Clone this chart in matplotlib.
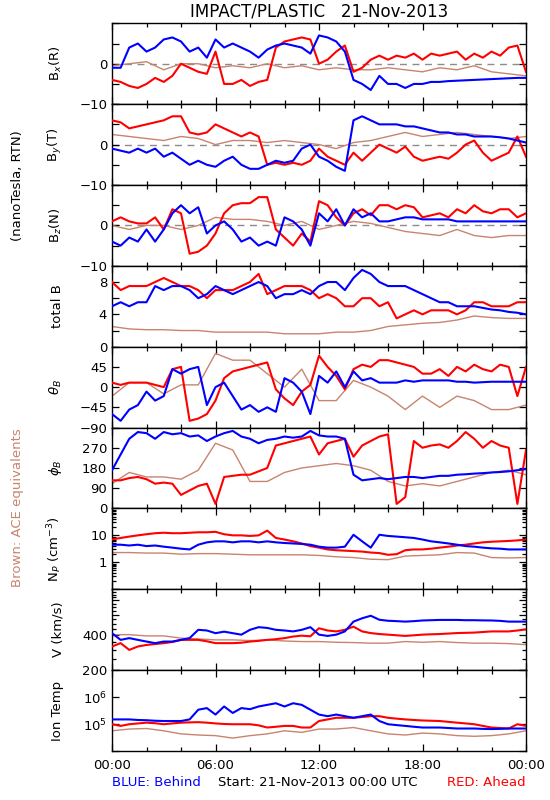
import numpy as np
import matplotlib.pyplot as plt
from matplotlib.ticker import FixedLocator, FixedFormatter, NullLocator, NullFormatter

# time grids (hours since 21-Nov-2013 00:00 UTC)
hours_half = np.arange(0, 24.01, 0.5)
hours_full = np.arange(0, 24.01, 1.0)

# ---- magnetic field, RTN (nT) ----
bx_blue = [-1, -1, 4, 5, 3, 4, 6, 6.5, 5.5, 3, 4, 1.5, 6, 4, 5, 4, 3, 1.5, 3.5, 4.5,
           5, 4.5, 4, 2.5, 7, 6.5, 5.5, 3, -4, -5, -6.5, -3, -5, -5, -6, -5, -5, -4.5,
           -4.5, -4.3, -4.2, -4.1, -4, -3.9, -3.8, -3.7, -3.6, -3.5, -3.5]
bx_red = [-4, -4.5, -5.5, -6, -5, -3.5, -4.5, -3, 0, -1, -2, -2.5, 3, -5, -5, -4, -5.5,
          -4.5, -4, 4, 5.5, 6, 6.5, 6, 0, 1, 3, 4.5, -2, -1, 1, 2, 1, 2, 1.5, 2.5, 1,
          2.5, 2, 2.5, 3, 1, 2.5, 1.5, 3, 2, 4, 4.5, -2]
bx_ace = [-0.5, 0, 0.5, -1.5, 0, 0, -1, -0.5, -1, 0, -1, -0.5, -1.5, -1, -1.5, -1.5,
          -1, -1.5, -2, -1, -1.5, -0.5, -2, -2.5, -3]

by_blue = [-1, -1.5, -2, -1, -2, -1, -3, -2, -3.5, -5, -4, -5, -5.5, -4, -3, -5, -6, -6,
           -5, -4, -4.5, -4, -1, 0, -3, -4, -5.5, -6.5, 6, 7, 6, 5, 5, 5, 4.5, 4.5, 4,
           3.5, 3, 3, 2.5, 2.5, 2, 2, 2, 1.8, 1.5, 1, 0.5]
by_red = [6, 5.5, 4, 4.5, 5, 5.5, 6, 7, 7, 3, 2.5, 3, 5, 4, 3, 2, 3, 2, -5, -4.5, -5,
          -4.5, -5, -4, -1, -3, -4, -5, -2, -4, -2, 0, -1, -2, -0.5, -3, -4, -3.5, -3,
          -3.5, -2, 0, 1, -2, -4, -3, -2, 2, -3]
by_ace = [2.5, 2, 1.5, 1, 2, 1.5, 0, 1, 1, 0.5, 1, 0.5, 0, -1, 0.5, 1, 2, 3, 2, 2.5,
          3, 2.5, 2, 1.5, 2]

bz_blue = [-4, -5, -3, -4, -1, -4, -1, 3, 5, 3, 4.5, -2, 0, 1, -1, -4, -3, -5, -4, -5,
           2, 1, -1, -5, 3, 1, 4, 0, 4, 2, 3, 1, 1, 1.5, 2, 2, 1.5, 1.5, 1.5, 1.5, 1, 1,
           1, 1, 1, 1, 1, 1, 1]
bz_red = [1, 2, 1, 0.5, 0.5, 2, -1, 4, 3, -7, -6.5, -5, -2, 3, 5, 5.5, 5.5, 7, 7, -1,
          -3, -5, -2, -4, 6, 5, 2, 0, 3, 4, 2.5, 5, 5, 4, 5, 4.5, 2, 2.5, 3, 2, 4, 3, 5,
          3.5, 3, 4, 4, 2, 3]
bz_ace = [0, -1, 0, 0, -1, 0, 2, 1.5, 1.5, 1, 0, 1, -1, 0, 1, 0.5, -0.5, -1.5, -2,
          -2.5, -1, -2.5, -3, -2.5, -2.5]

bt_blue = [5, 5.5, 5, 5.5, 5.5, 7.5, 7, 7.5, 7.5, 7, 6, 6.5, 7.5, 7, 6.5, 7, 7.5, 8,
           7.5, 6, 6.5, 6.5, 7, 6.5, 7.5, 8, 8, 7, 8.5, 9.5, 9, 8, 7.5, 7.5, 7.5, 7,
           6.5, 6, 5.5, 5.5, 5, 5, 5, 4.8, 4.6, 4.5, 4.3, 4.2, 4]
bt_red = [8, 7, 7.5, 7.5, 7.5, 8, 8.5, 8, 7.5, 7.5, 7, 6, 7, 7, 7, 7.5, 8, 9, 6.5, 7,
          7.5, 7.5, 7.5, 7, 6, 6.5, 6, 5, 5, 6, 6, 5, 5.5, 3.5, 4, 4.5, 4, 4.5, 4.5,
          4.5, 4, 4.5, 5.5, 5.5, 5, 5, 5, 5.5, 5.5]
bt_ace = [2.5, 2.2, 2.1, 2.1, 2.0, 2.0, 1.8, 1.8, 1.8, 1.8, 1.6, 1.6, 1.6, 1.8, 1.8,
          2.0, 2.5, 2.7, 2.9, 3.0, 3.3, 3.8, 3.6, 3.5, 3.5]

theta_blue = [-60, -75, -50, -40, -10, -30, -20, 40, 30, 40, 45, -40, 0, 10, -20, -50,
              -40, -55, -45, -55, 20, 10, -10, -60, 25, 10, 35, 0, 35, 15, 20, 10, 10,
              10, 15, 12, 15, 15, 15, 15, 12, 12, 10, 11, 12, 12, 12, 12, 12]
theta_red = [10, 5, 10, 10, 10, 5, 0, 40, 45, -75, -70, -60, -30, 20, 35, 40, 45, 50,
             55, -5, -25, -40, -10, 5, 70, 45, 25, -5, 40, 50, 45, 60, 60, 55, 50, 45,
             30, 30, 40, 25, 45, 35, 50, 40, 35, 50, 45, -20, 45]
theta_ace = [-20, 10, 10, -15, 5, 5, 75, 60, 60, 30, 0, 40, -30, -30, 15, 0, -20, -50,
             -20, -45, -20, -30, -50, -50, -40]

phi_blue = [170, 240, 310, 340, 335, 310, 340, 330, 335, 320, 325, 300, 320, 335, 345,
            320, 310, 290, 305, 310, 320, 315, 320, 345, 325, 320, 320, 310, 150, 125,
            130, 135, 130, 135, 140, 140, 135, 140, 145, 145, 150, 152, 155, 157, 160,
            162, 165, 170, 175]
phi_red = [125, 125, 135, 140, 130, 110, 115, 110, 60, 80, 100, 110, 20, 140, 145, 150,
           150, 165, 180, 280, 290, 300, 310, 320, 240, 290, 300, 310, 230, 280, 300,
           320, 330, 20, 50, 300, 270, 280, 285, 270, 300, 340, 310, 270, 300, 280, 270,
           20, 260]
phi_ace = [110, 160, 140, 140, 130, 170, 290, 260, 120, 120, 160, 180, 190, 200, 190,
           170, 120, 100, 110, 100, 120, 140, 160, 170, 150]

# ---- plasma ----
np_blue = [4.5, 4.5, 4.2, 4.5, 4.0, 4.2, 3.8, 3.5, 3.2, 3.0, 4.5, 5.5, 6, 6, 5.5, 6, 6,
           5.5, 6, 5.5, 5.2, 5, 4.8, 4.5, 3.8, 3.5, 3.5, 3.8, 10.5, 6, 3.5, 10.5, 9.5,
           9, 8.5, 8, 7, 6, 5.5, 5, 4.5, 4, 3.8, 3.5, 3.3, 3.2, 3.0, 3.0, 3.0]
np_red = [7, 8, 9, 10, 11, 12, 12.5, 12, 12, 12.5, 13, 13, 13.5, 11, 10, 10, 9.5, 10,
          15, 8, 7, 6, 5, 4, 3.5, 3, 2.8, 2.7, 2.6, 2.5, 2.3, 2.2, 1.9, 2.0, 2.8, 3, 3,
          3.2, 3.5, 3.8, 4.2, 4.5, 5, 5.5, 5.8, 6, 6.2, 6.5, 7]
np_ace = [2.3, 2.3, 2.2, 2.2, 2.0, 2.1, 2.1, 2.0, 1.9, 1.9, 1.9, 1.9, 1.8, 1.6, 1.5,
          1.3, 1.25, 1.7, 1.8, 1.9, 2.3, 2.2, 1.5, 1.45, 1.5]

v_blue = [417, 365, 378, 365, 353, 342, 353, 353, 365, 378, 446, 440, 417, 430, 417,
          405, 446, 470, 463, 446, 440, 432, 446, 470, 405, 395, 405, 432, 525, 561,
          590, 545, 534, 530, 525, 530, 537, 540, 543, 543, 543, 540, 540, 538, 537,
          533, 525, 525, 525]
v_red = [320, 342, 299, 320, 330, 336, 342, 350, 365, 365, 365, 355, 342, 342, 342, 345,
         353, 358, 365, 370, 378, 390, 397, 392, 460, 440, 432, 446, 475, 432, 418, 410,
         405, 400, 395, 400, 405, 408, 410, 414, 418, 420, 422, 427, 432, 432, 432, 440,
         450]
v_ace = [405, 405, 395, 395, 378, 372, 365, 365, 360, 365, 357, 353, 353, 348, 346,
         342, 342, 353, 348, 353, 346, 342, 342, 339, 332]

temp_blue = [1.48e5, 1.48e5, 1.48e5, 1.41e5, 1.38e5, 1.32e5, 1.29e5, 1.29e5, 1.29e5,
             1.48e5, 3.39e5, 3.89e5, 2.24e5, 4.47e5, 2.57e5, 3.89e5, 3.55e5, 4.47e5,
             5.13e5, 5.89e5, 4.47e5, 5.89e5, 5.13e5, 3.39e5, 2.24e5, 1.95e5, 2.24e5,
             1.95e5, 1.70e5, 1.95e5, 2.24e5, 1.29e5, 9.8e4, 9.1e4, 8.5e4, 7.9e4, 7.4e4,
             7.4e4, 7.4e4, 7.1e4, 6.8e4, 6.8e4, 6.8e4, 6.6e4, 6.5e4, 6.6e4, 6.8e4,
             6.8e4, 6.8e4]
temp_red = [9.8e4, 8.5e4, 9.8e4, 1.05e5, 1.12e5, 1.07e5, 9.8e4, 1.05e5, 1.12e5, 1.15e5,
            1.17e5, 1.12e5, 1.05e5, 1.0e5, 9.8e4, 9.8e4, 9.8e4, 8.9e4, 7.4e4, 7.9e4,
            8.5e4, 8.5e4, 7.4e4, 7.4e4, 1.29e5, 1.48e5, 1.70e5, 1.70e5, 1.70e5, 1.82e5,
            1.95e5, 1.95e5, 1.70e5, 1.58e5, 1.48e5, 1.41e5, 1.35e5, 1.32e5, 1.29e5,
            1.20e5, 1.12e5, 1.05e5, 9.8e4, 8.5e4, 7.4e4, 7.1e4, 6.8e4, 9.8e4, 8.5e4]
temp_ace = [5.6e4, 6.5e4, 6.8e4, 5.6e4, 4.3e4, 3.9e4, 3.7e4, 3.0e4, 3.7e4, 4.3e4,
            5.6e4, 4.9e4, 6.5e4, 6.5e4, 7.4e4, 5.6e4, 4.3e4, 3.9e4, 4.6e4, 4.3e4,
            3.7e4, 3.5e4, 3.7e4, 4.3e4, 5.6e4]

BLUE = '#0000FF'
RED = '#FF0000'
BROWN = '#C8846E'
FS = 9.5

panels = [
    # label, blue, red, ace, ylim, scale, ticks, ticklabels, minor
    ('B$_x$(R)', bx_blue, bx_red, bx_ace, (-10, 10), 'linear',
     [-10, -5, 0, 5, 10], ['\u221210', '', '0', '', ''], None),
    ('B$_y$(T)', by_blue, by_red, by_ace, (-10, 10), 'linear',
     [-10, -5, 0, 5, 10], ['\u221210', '', '0', '', ''], None),
    ('B$_z$(N)', bz_blue, bz_red, bz_ace, (-10, 10), 'linear',
     [-10, -5, 0, 5, 10], ['\u221210', '', '0', '', ''], None),
    ('total B', bt_blue, bt_red, bt_ace, (0, 10), 'linear',
     [0, 2, 4, 6, 8, 10], ['0', '', '4', '', '8', ''], None),
    (r'$\theta_B$', theta_blue, theta_red, theta_ace, (-90, 90), 'linear',
     [-90, -45, 0, 45, 90], ['\u221290', '\u221245', '0', '45', ''], None),
    (r'$\phi_B$', phi_blue, phi_red, phi_ace, (0, 360), 'linear',
     [0, 90, 180, 270, 360], ['0', '90', '180', '270', ''], None),
    ('N$_P$ (cm$^{-3}$)', np_blue, np_red, np_ace, (0.1, 100), 'log',
     [0.1, 1, 10, 100], ['', '1', '10', ''],
     [m * d for d in (0.1, 1, 10) for m in range(2, 10)]),
    ('V (km/s)', v_blue, v_red, v_ace, (200, 1000), 'log',
     [200, 400, 600, 800, 1000], ['200', '400', '', '', ''], list(range(250, 1000, 50))),
    ('Ion Temp', temp_blue, temp_red, temp_ace, (1e4, 1e7), 'log',
     [1e4, 1e5, 1e6, 1e7], ['', '10$^5$', '10$^6$', ''], []),
]

fig = plt.figure(figsize=(5.5, 8), dpi=100)
ax_left, ax_width = 112 / 550, 414 / 550
top_px, panel_px = 23.3, 80.85

for i, (label, blue, red, ace, ylim, scale, ticks, tlabels, minor) in enumerate(panels):
    y0 = 1 - (top_px + (i + 1) * panel_px) / 800
    ax = fig.add_axes([ax_left, y0, ax_width, panel_px / 800])
    if scale == 'log':
        ax.set_yscale('log')
    if i < 3:
        ax.axhline(0, color='#8c8c8c', lw=1.0, dashes=(5, 4), zorder=1)
    ax.plot(hours_full, ace, color=BROWN, lw=1.0, zorder=2)
    ax.plot(hours_half, red, color=RED, lw=1.5, zorder=3)
    ax.plot(hours_half, blue, color=BLUE, lw=1.5, zorder=4)

    ax.set_xlim(0, 24)
    ax.set_ylim(*ylim)
    ax.yaxis.set_major_locator(FixedLocator(ticks))
    ax.yaxis.set_major_formatter(FixedFormatter(tlabels))
    if minor:
        ax.yaxis.set_minor_locator(FixedLocator(minor))
    else:
        ax.yaxis.set_minor_locator(NullLocator())
    ax.yaxis.set_minor_formatter(NullFormatter())

    ax.xaxis.set_major_locator(FixedLocator([0, 6, 12, 18, 24]))
    ax.xaxis.set_minor_locator(FixedLocator([2, 4, 8, 10, 14, 16, 20, 22]))
    if i == len(panels) - 1:
        ax.set_xticklabels(['00:00', '06:00', '12:00', '18:00', '00:00'])
    else:
        ax.set_xticklabels([])

    ax.tick_params(which='both', direction='in', top=True, right=True,
                   labelsize=FS, width=0.9)
    ax.tick_params(which='major', length=5)
    ax.tick_params(which='minor', length=3)
    ax.tick_params(axis='x', pad=6)
    for sp in ax.spines.values():
        sp.set_linewidth(1.0)

    ax.set_ylabel(label, fontsize=FS)
    ax.yaxis.set_label_coords(-0.115, 0.5)

fig.text(319 / 550, 1 - 12 / 800, 'IMPACT/PLASTIC   21-Nov-2013',
         ha='center', va='center', fontsize=12)
fig.text(18 / 550, 1 - 186 / 800, '(nanoTesla, RTN)', rotation=90,
         ha='center', va='center', fontsize=FS)
fig.text(18 / 550, 1 - 508 / 800, 'Brown: ACE equivalents', rotation=90,
         ha='center', va='center', fontsize=FS, color=BROWN)
fig.text(112 / 550, 1 - 783 / 800, 'BLUE: Behind', color=BLUE,
         ha='left', va='center', fontsize=FS)
fig.text(318 / 550, 1 - 783 / 800, 'Start: 21-Nov-2013 00:00 UTC',
         ha='center', va='center', fontsize=FS)
fig.text(526 / 550, 1 - 783 / 800, 'RED: Ahead', color=RED,
         ha='right', va='center', fontsize=FS)

fig.savefig('out.png', dpi=100)
